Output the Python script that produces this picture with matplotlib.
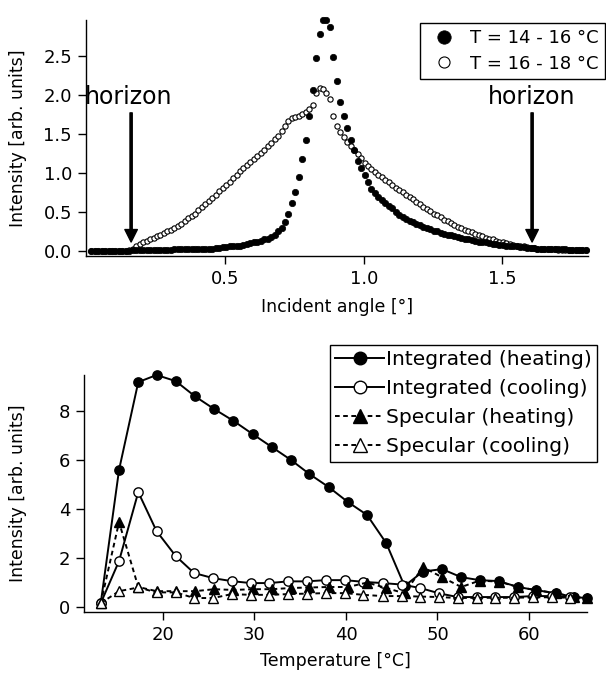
import numpy as np
import matplotlib
matplotlib.use("Agg")
import matplotlib.pyplot as plt

plt.rcParams['font.family'] = ['DejaVu Sans']

# ---- top panel: intensity vs incident angle ----
angle_start, angle_step = 0.015, 0.0125
int_14_16 = [
    0.00, 0.00, 0.00, 0.00, 0.00, 0.00, 0.00, 0.00, 0.00, 0.00, 0.00, 0.00,
    0.01, 0.01, 0.01, 0.01, 0.01, 0.01, 0.01, 0.01, 0.01, 0.01, 0.01, 0.01,
    0.02, 0.02, 0.02, 0.02, 0.02, 0.02, 0.02, 0.02, 0.03, 0.03, 0.03, 0.03,
    0.04, 0.04, 0.05, 0.05, 0.06, 0.06, 0.07, 0.07, 0.08, 0.09, 0.10, 0.11,
    0.12, 0.13, 0.15, 0.16, 0.18, 0.21, 0.25, 0.30, 0.37, 0.48, 0.61, 0.75,
    0.95, 1.18, 1.42, 1.73, 2.06, 2.47, 2.78, 2.96, 2.96, 2.87, 2.49, 2.18,
    1.91, 1.73, 1.58, 1.42, 1.29, 1.15, 1.06, 0.97, 0.88, 0.80, 0.74, 0.69,
    0.65, 0.61, 0.58, 0.55, 0.50, 0.46, 0.43, 0.41, 0.39, 0.37, 0.35, 0.33,
    0.31, 0.29, 0.28, 0.26, 0.25, 0.23, 0.22, 0.21, 0.20, 0.19, 0.18, 0.17,
    0.16, 0.15, 0.14, 0.13, 0.12, 0.11, 0.11, 0.10, 0.09, 0.09, 0.08, 0.08,
    0.07, 0.07, 0.06, 0.06, 0.05, 0.05, 0.04, 0.04, 0.04, 0.03, 0.03, 0.03,
    0.02, 0.02, 0.02, 0.02, 0.02, 0.02, 0.01, 0.01, 0.01, 0.01, 0.01, 0.01,
]
int_16_18 = [
    0.00, 0.00, 0.00, 0.00, 0.00, 0.00, 0.00, 0.00, 0.00, 0.00, 0.00, 0.01,
    0.03, 0.06, 0.09, 0.11, 0.13, 0.15, 0.17, 0.19, 0.21, 0.23, 0.25, 0.27,
    0.30, 0.32, 0.35, 0.38, 0.42, 0.45, 0.48, 0.52, 0.56, 0.60, 0.64, 0.68,
    0.72, 0.77, 0.81, 0.85, 0.89, 0.93, 0.98, 1.02, 1.06, 1.10, 1.14, 1.18,
    1.22, 1.26, 1.30, 1.34, 1.39, 1.43, 1.48, 1.54, 1.60, 1.66, 1.71, 1.72,
    1.73, 1.75, 1.78, 1.82, 1.87, 2.02, 2.09, 2.07, 2.02, 1.95, 1.73, 1.60,
    1.53, 1.46, 1.40, 1.35, 1.30, 1.24, 1.19, 1.13, 1.09, 1.05, 1.01, 0.98,
    0.95, 0.91, 0.88, 0.85, 0.81, 0.78, 0.75, 0.72, 0.69, 0.66, 0.63, 0.60,
    0.57, 0.54, 0.51, 0.48, 0.46, 0.43, 0.40, 0.38, 0.36, 0.33, 0.31, 0.29,
    0.27, 0.25, 0.24, 0.22, 0.20, 0.19, 0.17, 0.16, 0.15, 0.13, 0.12, 0.11,
    0.10, 0.09, 0.08, 0.07, 0.06, 0.06, 0.05, 0.04, 0.04, 0.03, 0.03, 0.02,
    0.02, 0.02, 0.02, 0.01, 0.01, 0.01, 0.01, 0.01, 0.01, 0.01, 0.01, 0.01,
]
angle = angle_start + angle_step * np.arange(len(int_14_16))
horizon_angles = [0.159, 1.608]

# ---- bottom panel: intensity vs temperature ----
temp_heat = [13.2, 15.2, 17.3, 19.3, 21.4, 23.5, 25.6, 27.7, 29.8, 31.9, 34.0,
             36.0, 38.1, 40.2, 42.3, 44.4, 46.4, 48.4, 50.5, 52.6, 54.6, 56.7,
             58.8, 60.8, 62.9, 64.9, 66.3]
integ_heat = [0.16, 5.6, 9.18, 9.47, 9.22, 8.6, 8.08, 7.6, 7.06, 6.53, 6.0,
              5.43, 4.9, 4.29, 3.76, 2.61, 0.86, 1.45, 1.55, 1.22, 1.1, 1.06,
              0.82, 0.69, 0.57, 0.41, 0.37]
spec_heat = [0.16, 3.47, 0.82, 0.65, 0.65, 0.65, 0.73, 0.7, 0.73, 0.73, 0.78,
             0.8, 0.82, 0.82, 1.0, 0.78, 0.56, 1.63, 1.22, 0.82, 1.08, 1.04,
             0.82, 0.69, 0.57, 0.41, 0.37]
temp_cool = [13.2, 15.2, 17.3, 19.3, 21.4, 23.4, 25.5, 27.5, 29.6, 31.6, 33.7,
             35.7, 37.8, 39.9, 41.9, 44.0, 46.1, 48.1, 50.2, 52.2, 54.3, 56.3,
             58.4, 60.4, 62.5, 64.5]
integ_cool = [0.16, 1.88, 4.69, 3.1, 2.08, 1.39, 1.18, 1.06, 0.98, 0.98, 1.05,
              1.05, 1.1, 1.1, 1.03, 0.98, 0.92, 0.78, 0.56, 0.41, 0.41, 0.41,
              0.41, 0.45, 0.45, 0.4]
spec_cool = [0.16, 0.65, 0.8, 0.6, 0.6, 0.37, 0.37, 0.53, 0.5, 0.5, 0.53,
             0.55, 0.57, 0.57, 0.5, 0.45, 0.45, 0.43, 0.41, 0.37, 0.38, 0.38,
             0.38, 0.4, 0.4, 0.38]

fig = plt.figure(figsize=(6.06, 6.75), dpi=100)

# top axes
ax1 = fig.add_axes([86 / 606, 1 - 256 / 675, 502 / 606, 236 / 675])
ax1.plot(angle, int_16_18, 'o', ms=3.8, mfc='white', mec='black', mew=0.8,
         label='T = 16 - 18 °C', zorder=2, clip_on=False)
ax1.plot(angle, int_14_16, 'o', ms=4.6, mfc='black', mec='black', mew=0.5,
         label='T = 14 - 16 °C', zorder=3, clip_on=False)
ax1.set_xlim(-0.004, 1.81)
ax1.set_ylim(-0.064, 2.96)
ax1.set_xticks([0.5, 1.0, 1.5])
ax1.set_yticks([0.0, 0.5, 1.0, 1.5, 2.0, 2.5])
ax1.xaxis.set_major_formatter(plt.FormatStrFormatter('%.1f'))
ax1.yaxis.set_major_formatter(plt.FormatStrFormatter('%.1f'))
ax1.set_xlabel('Incident angle [°]', fontsize=12.5, labelpad=7)
ax1.set_ylabel('Intensity [arb. units]', fontsize=12.5)
ax1.yaxis.set_label_coords(-0.118, 0.5)

for xa in horizon_angles:
    ax1.annotate('', xy=(xa, 0.115), xytext=(xa, 1.77),
                 arrowprops=dict(facecolor='black', edgecolor='black',
                                 width=1.6, headwidth=9, headlength=9, shrink=0))
    ax1.text(xa - 0.01 if xa < 1 else xa, 1.97, 'horizon', fontsize=17,
             ha='center', va='center')

h, l = ax1.get_legend_handles_labels()
leg1 = ax1.legend(h[::-1], l[::-1], loc='upper right',
                  bbox_to_anchor=(605 / 606, 1 - 23 / 675),
                  bbox_transform=fig.transFigure, fontsize=13, frameon=True,
                  fancybox=False, edgecolor='black', framealpha=1,
                  borderpad=0.35, labelspacing=0.4, handlelength=1.9,
                  handletextpad=0.5, borderaxespad=0, markerscale=2.1)
leg1.get_frame().set_linewidth(1.0)

# bottom axes
ax2 = fig.add_axes([84 / 606, 1 - 612 / 675, 503 / 606, 237 / 675])
dash = (0, (2.4, 1.8))
ax2.plot(temp_heat, integ_heat, '-o', color='black', lw=1.4, ms=6.7,
         mfc='black', mec='black', label='Integrated (heating)', clip_on=False)
ax2.plot(temp_cool, integ_cool, '-o', color='black', lw=1.4, ms=6.7,
         mfc='white', mec='black', mew=1.0, label='Integrated (cooling)',
         clip_on=False)
ax2.plot(temp_heat, spec_heat, linestyle=dash, marker='^', color='black',
         lw=1.4, ms=7.5, mfc='black', mec='black', label='Specular (heating)',
         clip_on=False)
ax2.plot(temp_cool, spec_cool, linestyle=dash, marker='^', color='black',
         lw=1.4, ms=7.5, mfc='white', mec='black', mew=1.0,
         label='Specular (cooling)', clip_on=False)
ax2.set_xlim(11.37, 66.34)
ax2.set_ylim(-0.2, 9.47)
ax2.set_xticks([20, 30, 40, 50, 60])
ax2.set_yticks([0, 2, 4, 6, 8])
ax2.set_xlabel('Temperature [°C]', fontsize=12.5, labelpad=6)
ax2.set_ylabel('Intensity [arb. units]', fontsize=12.5)
ax2.yaxis.set_label_coords(-0.113, 0.5)

leg2 = ax2.legend(loc='upper right', bbox_to_anchor=(597 / 606, 1 - 345 / 675),
                  bbox_transform=fig.transFigure, fontsize=14.6, frameon=True,
                  fancybox=False, edgecolor='black', framealpha=1,
                  borderpad=0.25, labelspacing=0.5, handlelength=2.4,
                  handletextpad=0.1, borderaxespad=0, markerscale=1.35)
leg2.get_frame().set_linewidth(1.0)

for ax in (ax1, ax2):
    ax.spines['top'].set_visible(False)
    ax.spines['right'].set_visible(False)
    ax.spines['left'].set_linewidth(1.0)
    ax.spines['bottom'].set_linewidth(1.0)
    ax.tick_params(direction='out', length=6, width=1.0, labelsize=13,
                   pad=4)

fig.savefig('out.png', dpi=100)
